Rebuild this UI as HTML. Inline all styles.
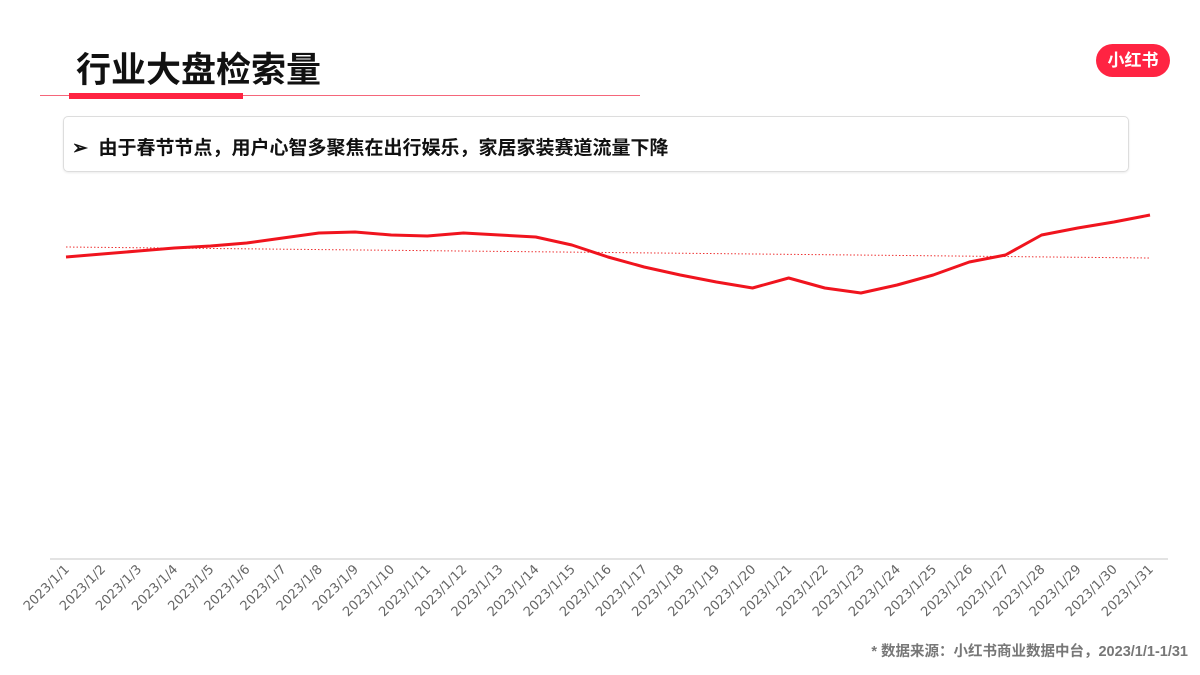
<!DOCTYPE html>
<html><head><meta charset="utf-8"><style>
body{margin:0;width:1200px;height:675px;background:#fff;overflow:hidden;font-family:"Liberation Sans","Noto Sans CJK SC",sans-serif;position:relative}
.title{position:absolute;left:76px;top:42px;font-size:35px;font-weight:bold;color:#111}
.line1{position:absolute;left:40px;top:95px;width:600px;height:1px;background:#f5667a}
.line2{position:absolute;left:69px;top:93px;width:174px;height:6px;background:#ff2442}
.box{position:absolute;left:63px;top:116px;width:1064px;height:54px;border:1px solid #ddd;border-radius:5px;box-shadow:0 1px 2px rgba(0,0,0,.08)}
.box span{position:absolute;left:8px;top:16px;font-size:19px;font-weight:bold;color:#111}
.logo{position:absolute;left:1096px;top:44px;width:74px;height:33px;border-radius:17px;background:#ff2442;color:#fff;font-weight:bold;font-size:17px;text-align:center;line-height:33px}
.foot{position:absolute;right:12px;top:640px;font-size:14.5px;font-weight:bold;color:#777}
</style></head><body>
<div class="title">行业大盘检索量</div>
<div class="line1"></div>
<div class="line2"></div>
<div class="box"><span>➢&nbsp;&nbsp;由于春节节点，用户心智多聚焦在出行娱乐，家居家装赛道流量下降</span></div>
<div class="logo">小红书</div>
<svg width="1200" height="675" style="position:absolute;left:0;top:0">
<g id="g"></g></svg>
<div class="foot">* 数据来源：小红书商业数据中台，2023/1/1-1/31</div>
<script>
const categories=[];for(let d=1;d<=31;d++)categories.push('2023/1/'+d);
const values=[301,304,307,310,312,315,320,325,326,323,322,325,323,321,313,301,291,283,276,270,280,270,265,273,283,296,303,323,330,336,343];
const trend=[311,300];
const x0=66,x1=1150,base=558;
const xs=i=>x0+(x1-x0)*i/(categories.length-1);
const ys=v=>base-v;
const g=document.getElementById('g'),NS='http://www.w3.org/2000/svg';
function mk(t,a){const e=document.createElementNS(NS,t);for(const k in a)e.setAttribute(k,a[k]);g.appendChild(e);return e;}
const ax=mk('line',{x1:50,x2:1168,y1:559,y2:559,stroke:'#e3e3e3','stroke-width':2});


categories.forEach((c,i)=>{const t=mk('text',{x:xs(i)+4,y:570,'font-size':13,fill:'#666','text-anchor':'end',transform:`rotate(-45 ${xs(i)+4} 570)`,'font-family':'DejaVu Sans, sans-serif'});t.textContent=c;

});
const tl=mk('line',{x1:xs(0),x2:xs(categories.length-1),y1:ys(trend[0]),y2:ys(trend[1]),stroke:'#e33','stroke-width':1,'stroke-dasharray':'1.5 2'});


const p=mk('polyline',{points:values.map((v,i)=>xs(i)+','+ys(v)).join(' '),fill:'none',stroke:'#f0141e','stroke-width':3,'stroke-linejoin':'round'});


</script>
</body></html>
